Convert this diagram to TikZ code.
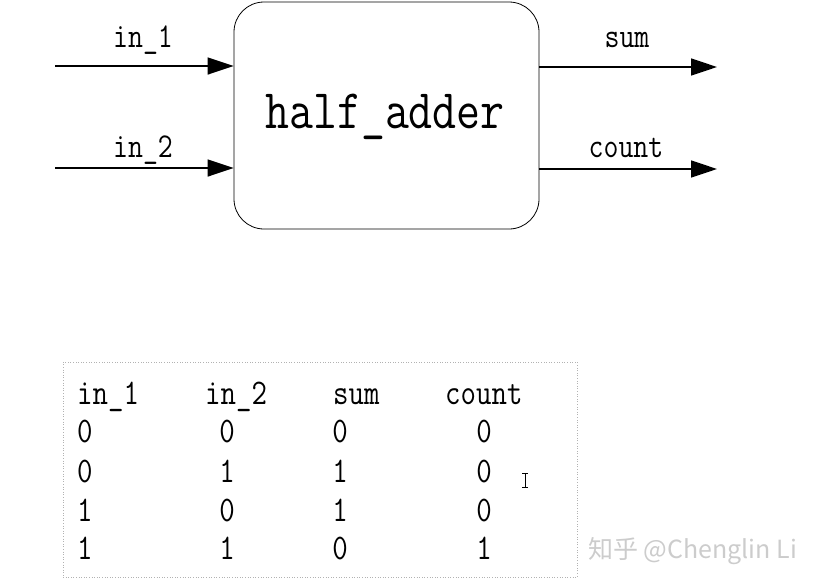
\documentclass[tikz,border=0pt]{standalone}
\usepackage{fontspec}
\newfontfamily\cjk{Noto Sans CJK SC}
\usetikzlibrary{arrows.meta}
\newcommand{\tallt}[1]{\scalebox{1}[1.2]{#1}}
\begin{document}
\begin{tikzpicture}[x=1pt,y=-1pt,
  lbl/.style={font=\ttfamily\fontsize{29}{31}\selectfont, inner sep=0pt, anchor=base},
  cell/.style={font=\ttfamily\fontsize{30}{32}\selectfont, inner sep=0pt, anchor=base},
  cellw/.style={cell, anchor=base west},
  sig/.style={line width=1.6pt, -{Triangle[length=26pt,width=17pt]}},
  blk/.style={draw, line width=0.8pt, rounded corners=30pt, minimum width=305pt, minimum height=227pt, inner sep=0pt},
  bigt/.style={font=\ttfamily\fontsize{46.5}{48}\selectfont, inner sep=0pt, anchor=base}
]
\useasboundingbox (0,0) rectangle (816,587);
% block
\node[blk] (ha) at (386.5,115.5) {};
\node[bigt] (hat) at (385,128) {\tallt{half\_adder}};
% inputs
\coordinate (i1) at (55,66);
\coordinate (i2) at (55,168);
\draw[sig] (i1) -- (i1 -| ha.west);
\draw[sig] (i2) -- (i2 -| ha.west);
\node[lbl] (li1) at (143,47) {\tallt{in\_1}};
\node[lbl] (li2) at (143,157) {\tallt{in\_2}};
% outputs
\coordinate (o1) at (717,67);
\coordinate (o2) at (717,169);
\draw[sig] (o1 -| ha.east) -- (o1);
\draw[sig] (o2 -| ha.east) -- (o2);
\node[lbl] (lsum) at (627,47) {\tallt{sum}};
\node[lbl] (lcount) at (626,157) {\tallt{count}};
% table
\node[draw=gray!60, dotted, line width=0.6pt, minimum width=514pt, minimum height=215pt, inner sep=0pt] (tbl) at (320,469.5) {};
\node[cellw] (h1) at (77,404) {\tallt{in\_1}};
\node[cellw] (h2) at (205,404) {\tallt{in\_2}};
\node[cellw] (h3) at (333,404) {\tallt{sum}};
\node[cellw] (h4) at (445,404) {\tallt{count}};
% rows
\node[cellw] (a1) at (77,442) {\tallt{0}}; \node[cell] (a2) at (227,442) {\tallt{0}}; \node[cell] (a3) at (340,442) {\tallt{0}}; \node[cell] (a4) at (484,442) {\tallt{0}};
\node[cellw] (b1) at (77,482) {\tallt{0}}; \node[cell] (b2) at (227,482) {\tallt{1}}; \node[cell] (b3) at (340,482) {\tallt{1}}; \node[cell] (b4) at (484,482) {\tallt{0}};
\node[cellw] (c1) at (77,521) {\tallt{1}}; \node[cell] (c2) at (227,521) {\tallt{0}}; \node[cell] (c3) at (340,521) {\tallt{1}}; \node[cell] (c4) at (484,521) {\tallt{0}};
\node[cellw] (d1) at (77,559) {\tallt{1}}; \node[cell] (d2) at (227,559) {\tallt{1}}; \node[cell] (d3) at (340,559) {\tallt{0}}; \node[cell] (d4) at (484,559) {\tallt{1}};
% text cursor
\draw[line width=0.7pt] (522,473) -- (528,473) (525,473) -- (525,487) (522,487) -- (528,487);
% watermark
\node[font=\cjk\fontsize{25}{27}\selectfont, text=gray!40, inner sep=0pt, anchor=base west] (wm) at (588,558) {知乎 @Chenglin Li};
\end{tikzpicture}
\end{document}
